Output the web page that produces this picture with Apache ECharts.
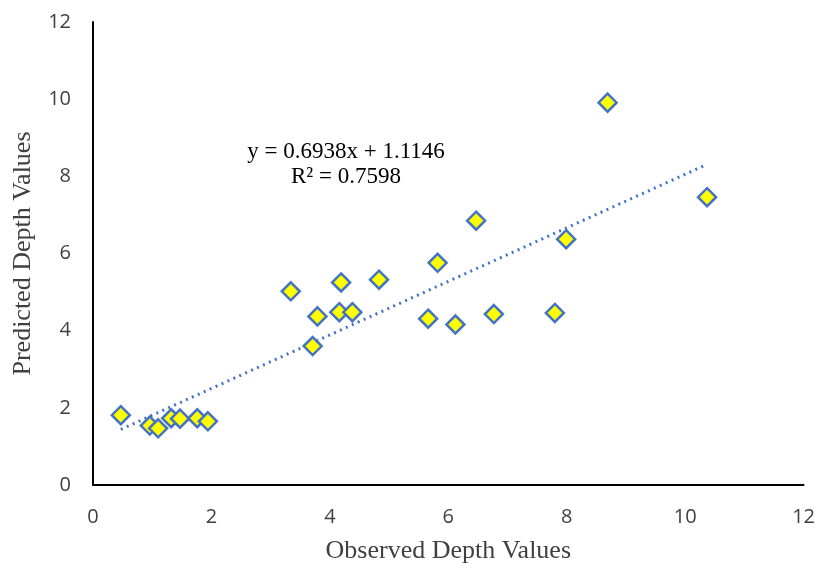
<!DOCTYPE html>
<html>
<head>
<meta charset="utf-8">
<script type="text/javascript" src="https://cdn.jsdelivr.net/npm/echarts@6/dist/echarts.min.js"></script>
<style>
  html, body { margin: 0; padding: 0; background: #fff; }
  #container { width: 818px; height: 569px; }
</style>
</head>
<body>
<div id="container"></div>
<script type="text/javascript">
    // observed / predicted depth values
    var observed = [0.47, 0.96, 1.10, 1.32, 1.47, 1.76, 1.94, 3.34, 3.71, 3.79, 4.16, 4.19, 4.38, 4.83,
                    5.66, 5.82, 6.12, 6.47, 6.77, 7.80, 7.99, 8.69, 10.37];
    var predicted = [1.81, 1.54, 1.47, 1.73, 1.72, 1.73, 1.65, 5.02, 3.60, 4.37, 4.48, 5.25, 4.48, 5.32,
                     4.31, 5.76, 4.16, 6.85, 4.43, 4.46, 6.37, 9.91, 7.46];
    var slope = 0.6938;
    var intercept = 1.1146;
    var eqText = 'y = 0.6938x + 1.1146';
    var r2Text = 'R² = 0.7598';

    var points = [];
    for (var i = 0; i < observed.length; i++) {
        points.push([observed[i], predicted[i]]);
    }
    // linear trendline across the observed range
    var xMin = Math.min.apply(null, observed);
    var xMax = Math.max.apply(null, observed);
    var trend = [[xMin, slope * xMin + intercept], [xMax, slope * xMax + intercept]];

    var myChart = echarts.init(document.getElementById('container'));
    var tickFont = { color: '#404040', fontSize: 20, fontFamily: 'Open Sans' };
    var titleFont = { fontFamily: 'Liberation Serif', fontSize: 26, color: '#404040' };
    var eqFont = { fill: '#000', fontFamily: 'Liberation Serif', fontSize: 23, align: 'center', verticalAlign: 'middle' };

    var option = {
        animation: false,
        grid: { left: 93, right: 12, top: 22, bottom: 82 },
        xAxis: {
            type: 'value', min: 0, max: 12, interval: 2,
            name: 'Observed Depth Values', nameLocation: 'middle', nameGap: 53,
            nameTextStyle: titleFont,
            axisLine: { lineStyle: { color: '#000', width: 2 } },
            axisTick: { show: false },
            splitLine: { show: false },
            axisLabel: Object.assign({ margin: 22 }, tickFont)
        },
        yAxis: {
            type: 'value', min: 0, max: 12, interval: 2,
            name: 'Predicted Depth Values', nameLocation: 'middle', nameGap: 57,
            nameTextStyle: titleFont,
            axisLine: { show: true, lineStyle: { color: '#000', width: 2 } },
            axisTick: { show: false },
            splitLine: { show: false },
            axisLabel: Object.assign({ margin: 22 }, tickFont)
        },
        series: [
            {
                type: 'line',
                data: trend,
                symbol: 'none',
                lineStyle: { color: '#4472C4', width: 3, type: [2, 4.5] },
                silent: true,
                z: 1
            },
            {
                type: 'scatter',
                data: points,
                symbol: 'diamond',
                symbolSize: 18,
                itemStyle: { color: '#FFFF00', borderColor: '#4472C4', borderWidth: 2.5, opacity: 1 },
                z: 2
            }
        ],
        graphic: [
            { type: 'text', x: 346, y: 152, style: Object.assign({ text: eqText }, eqFont) },
            { type: 'text', x: 346, y: 177, style: Object.assign({ text: r2Text }, eqFont) }
        ]
    };
    myChart.setOption(option);
</script>
</body>
</html>
